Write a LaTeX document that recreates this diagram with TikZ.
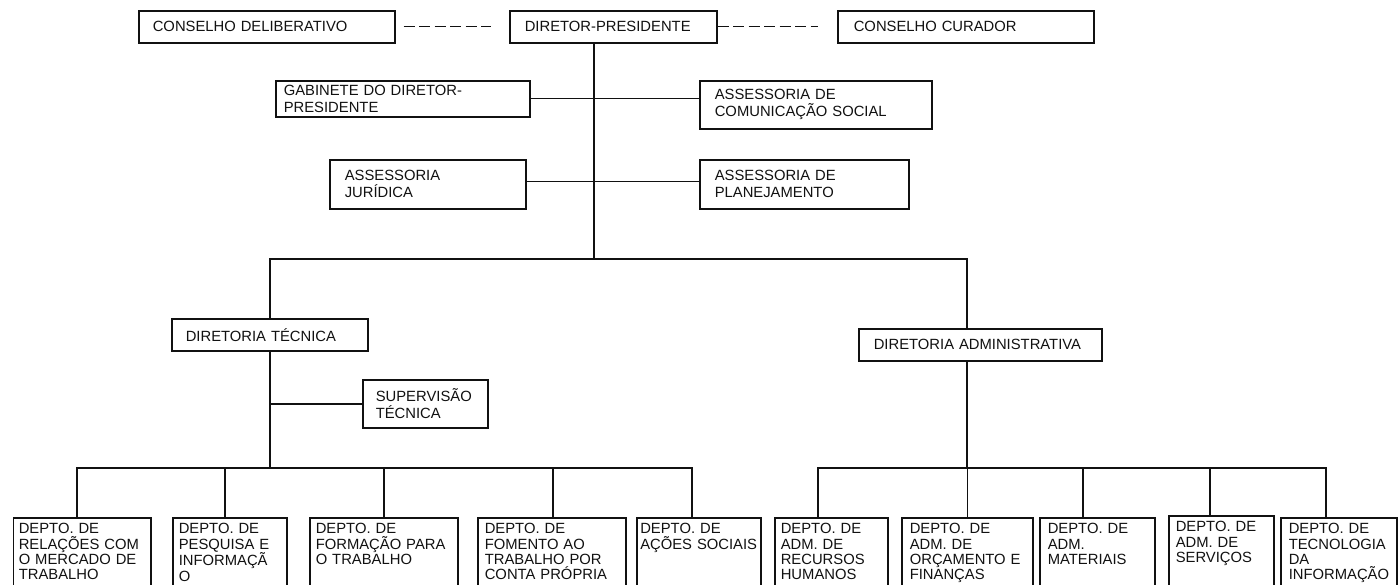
\documentclass[tikz,border=0pt]{standalone}
\usepackage{fontspec}
\setmainfont{Liberation Sans}
\usepackage{tikz}
\definecolor{orgInk}{HTML}{111111}
\tikzset{
  org diagram/.style={x=1pt, y=-1pt, font=\fontsize{14.8}{15.3}\selectfont,
    text=orgInk, line join=miter},
  org box/.style={draw=orgInk, fill=white, line width=1.6pt, anchor=north west,
    align=left, inner ysep=0pt},
  org top box/.style={org box, minimum height=32pt},
  org pair box/.style={org box, font=\fontsize{14.8}{17}\selectfont},
  org dept box/.style={org box, inner ysep=5pt, text height=11pt, text depth=80pt},
  org line/.style={draw=orgInk, line width=1.4pt},
  org dash/.style={org line, dash pattern=on 11pt off 4.5pt}
}
\begin{document}
\begin{tikzpicture}[org diagram]
\useasboundingbox (0,0) rectangle (1398,585);
\clip (0,0) rectangle (1398,585);

\node[org top box, inner xsep=14pt, text width=228pt] (cdelib) at (138,10) {CONSELHO DELIBERATIVO};
\node[org top box, inner xsep=15pt, text width=177pt] (dirpres) at (509,10) {DIRETOR-PRESIDENTE};
\node[org top box, inner xsep=16pt, text width=224pt] (ccurador) at (837,10) {CONSELHO CURADOR};

\node[org pair box, minimum height=36pt, inner xsep=8pt, text width=238pt] (gabinete) at (275,80) {GABINETE DO DIRETOR-\\PRESIDENTE};
\node[org pair box, minimum height=48pt, inner xsep=15pt, text width=202pt] (ascom) at (699,80) {ASSESSORIA DE\\COMUNICAÇÃO SOCIAL};
\node[org pair box, minimum height=49pt, inner xsep=15pt, text width=166pt] (asjur) at (329,159) {ASSESSORIA\\JURÍDICA};
\node[org pair box, minimum height=49pt, inner xsep=15pt, text width=179pt] (asplan) at (699,159) {ASSESSORIA DE\\PLANEJAMENTO};

\node[org top box, inner xsep=14pt, text width=168pt] (dirtec) at (171,318) {DIRETORIA TÉCNICA};
\node[org top box, inner xsep=15pt, text width=213pt] (diradm) at (858,328) {DIRETORIA ADMINISTRATIVA};
\node[org pair box, minimum height=48pt, inner xsep=13pt, text width=99pt] (suptec) at (362,379) {SUPERVISÃO\\TÉCNICA};

\node[org dept box, inner xsep=5.5pt, text width=126.5pt] (deprel) at (12.5,517) {DEPTO. DE\\RELAÇÕES COM\\O MERCADO DE\\TRABALHO};
\node[org dept box, inner xsep=6pt, text width=102pt] (deppesq) at (172,517) {DEPTO. DE\\PESQUISA E\\INFORMAÇÃ\\O};
\node[org dept box, inner xsep=6pt, text width=136pt] (depform) at (309,517) {DEPTO. DE\\FORMAÇÃO PARA\\O TRABALHO};
\node[org dept box, inner xsep=7pt, text width=134pt] (depfom) at (477,517) {DEPTO. DE\\FOMENTO AO\\TRABALHO POR\\CONTA PRÓPRIA};
\node[org dept box, inner xsep=3.5pt, text width=117pt] (depacoes) at (636,517) {DEPTO. DE\\AÇÕES SOCIAIS};
\node[org dept box, inner xsep=6pt, text width=101pt] (deprh) at (774,517) {DEPTO. DE\\ADM. DE\\RECURSOS\\HUMANOS};
\node[org dept box, inner xsep=8pt, text width=115pt] (deporc) at (901,517) {DEPTO. DE\\ADM. DE\\ORÇAMENTO E\\FINANÇAS};
\node[org dept box, inner xsep=8pt, text width=99pt] (depmat) at (1039,517) {DEPTO. DE\\ADM.\\MATERIAIS};
\node[org dept box, inner xsep=7pt, text width=91pt] (depserv) at (1168,515) {DEPTO. DE\\ADM. DE\\SERVIÇOS};
\node[org dept box, inner xsep=8pt, text width=100pt] (deptec) at (1280,517) {DEPTO. DE\\TECNOLOGIA\\DA\\INFORMAÇÃO};

\coordinate (split) at (594,259);
\coordinate (daintop) at ([xshift=-13.5pt]diradm.north);
\coordinate (dainbot) at ([xshift=-13.5pt]diradm.south);
\coordinate (techbar) at (dirtec.south |- 0,468);
\coordinate (admbar) at (dainbot |- 0,468);
\coordinate (reltop) at ([xshift=-5pt]deprel.north);
\coordinate (pesqtop) at ([xshift=-5pt]deppesq.north);
\coordinate (formtop) at (depform.north);
\coordinate (fomtop) at ([xshift=1pt]depfom.north);
\coordinate (acoestop) at ([xshift=-7pt]depacoes.north);
\coordinate (rhtop) at ([xshift=-13.5pt]deprh.north);
\coordinate (orctop) at (deporc.north);
\coordinate (mattop) at ([xshift=-14.5pt]depmat.north);
\coordinate (servtop) at ([xshift=-11.5pt]depserv.north);
\coordinate (tectop) at ([xshift=-13pt]deptec.north);

\draw[org dash, shorten <=8pt, shorten >=18pt] (cdelib.east) -- (dirpres.west);
\draw[org dash, shorten >=19pt] (dirpres.east) -- (ccurador.west);
\draw[org line] (dirpres.south -| split) -- (split);
\draw[org line] (gabinete.east) -- (gabinete.east -| ascom.west);
\draw[org line] ([yshift=3pt]asjur.east) -- ([yshift=3pt]asplan.west);
\draw[org line] (dirtec.north) |- (split) -| (daintop);
\draw[org line] (suptec.west) -- (suptec.west -| dirtec.south);
\draw[org line] (dirtec.south) -- (techbar);
\draw[org line] (dainbot) -- (admbar);
\draw[org line] (reltop) |- (acoestop |- techbar) -- (acoestop);
\draw[org line] (pesqtop) -- (pesqtop |- techbar);
\draw[org line] (formtop) -- (formtop |- techbar);
\draw[org line] (fomtop) -- (fomtop |- techbar);
\draw[org line] (rhtop) |- (tectop |- admbar) -- (tectop);
\draw[org line] (orctop) -- (orctop |- admbar);
\draw[org line] (mattop) -- (mattop |- admbar);
\draw[org line] (servtop) -- (servtop |- admbar);
\end{tikzpicture}
\end{document}
